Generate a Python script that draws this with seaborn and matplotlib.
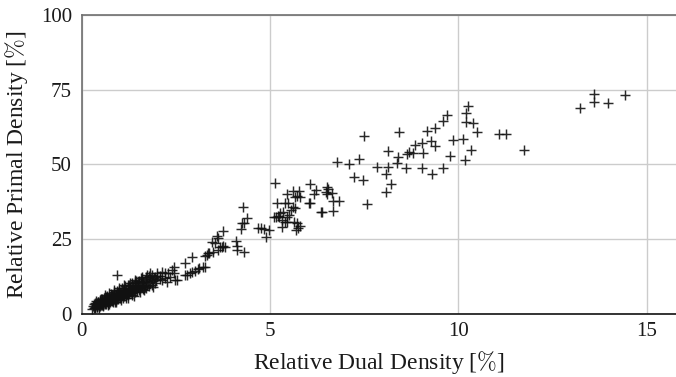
import matplotlib
matplotlib.use("Agg")
import matplotlib.pyplot as plt
import seaborn as sns
import pandas as pd

# Relative dual density [%] and relative primal density [%] per instance
dual_density = [
    # dense low-density group
    0.29, 0.31, 0.33, 0.34, 0.36, 0.37, 0.39, 0.40, 0.41, 0.43,
    0.44, 0.46, 0.47, 0.49, 0.50, 0.51, 0.52, 0.54, 0.55, 0.56,
    0.58, 0.59, 0.61, 0.62, 0.63, 0.64, 0.66, 0.67, 0.69, 0.70,
    0.71, 0.72, 0.74, 0.75, 0.76, 0.78, 0.79, 0.81, 0.82, 0.83,
    0.84, 0.86, 0.87, 0.88, 0.90, 0.91, 0.92, 0.94, 0.95, 0.96,
    0.98, 0.99, 1.01, 1.02, 1.03, 1.05, 1.06, 1.07, 1.09, 1.10,
    1.11, 1.13, 1.14, 1.16, 1.17, 1.19, 1.20, 1.21, 1.23, 1.24,
    1.26, 1.27, 1.29, 1.31, 1.32, 1.34, 1.36, 1.37, 1.39, 1.41,
    1.43, 1.45, 1.47, 1.49, 1.51, 1.53, 1.56, 1.58, 1.60, 1.62,
    1.64, 1.67, 1.69, 1.72, 1.74, 1.77, 1.79, 1.82, 1.84, 1.87,
    1.89, 1.92, 1.95, 1.98, 2.01, 0.35, 0.42, 0.48, 0.57, 0.65,
    0.73, 0.80, 0.89, 0.97, 1.04, 1.12, 1.22, 1.30, 1.38, 1.46,
    1.55, 1.63, 1.71, 0.45, 0.53, 0.60, 0.68, 0.77, 0.85, 0.93,
    1.00, 1.08, 1.15, 1.25, 1.33, 1.42, 1.52, 1.61, 1.70, 1.80,
    0.93, 1.24, 1.42, 1.60, 1.73,
    0.38, 0.52, 0.63, 0.74, 0.86, 0.99, 1.12, 1.28, 1.44, 1.58,
    0.47, 0.69, 0.91, 1.18, 1.35, 1.66, 1.90,
    # 2 - 4 %
    1.82, 1.86, 1.95, 1.99, 2.08, 2.13, 2.21, 2.26, 2.30, 2.35,
    2.39, 2.44, 2.48, 2.53, 2.13, 2.21, 2.44, 2.08,
    2.75, 2.79, 2.88, 2.92, 3.01, 3.10, 3.12, 3.23, 3.28, 2.75,
    2.92, 3.28, 3.32, 3.36, 3.39, 3.50, 3.63,
    3.45, 3.54, 3.59, 3.63, 3.67, 3.72, 3.76, 3.81, 3.74,
    4.10, 4.12, 4.13, 4.32, 4.22, 4.25, 4.32, 4.38, 4.28,
    # 4.5 - 7 %
    4.67, 4.76, 4.85, 4.96, 4.89,
    5.11, 5.16, 5.22, 5.27, 5.35, 5.25, 5.33, 5.39, 5.46, 5.51,
    5.44, 5.33, 5.64, 5.71, 5.80, 5.69, 5.75, 5.62, 5.57, 5.66,
    5.19, 5.40, 5.49, 6.03, 6.06, 5.45, 5.62, 5.78, 5.71, 5.80,
    5.66, 5.14, 6.07, 6.23, 6.18, 6.50, 6.53, 6.49, 6.52, 6.64,
    6.66, 6.84, 6.37, 6.66, 6.34, 6.79, 7.10, 7.36, 7.24, 7.46,
    7.56, 7.50,
    # 7.5 - 12 %
    7.85, 8.14, 8.08, 8.20, 8.08, 8.14, 8.43, 8.40, 8.38, 8.60,
    8.64, 8.70, 8.80, 8.85, 9.02, 9.07, 9.02, 9.17, 9.27, 9.37,
    9.39, 9.58, 9.69, 9.29, 9.60, 9.77, 9.86, 10.13, 10.18, 10.32,
    10.50, 10.39, 10.19, 10.19, 10.24, 11.08, 11.25, 11.75,
    # above 13 %
    13.22, 13.60, 13.60, 13.97, 14.42,
]

primal_density = [
    # dense low-density group
    1.5, 2.6, 1.9, 3.1, 2.3, 1.7, 2.9, 3.5, 2.1, 2.7,
    3.8, 2.4, 3.2, 4.2, 2.6, 3.0, 3.6, 2.8, 4.4, 3.3,
    2.9, 3.9, 4.8, 3.1, 3.6, 4.3, 3.3, 5.1, 3.9, 4.5,
    3.5, 5.4, 4.1, 4.8, 3.7, 5.0, 5.8, 4.2, 4.6, 5.5,
    3.9, 4.9, 6.1, 4.4, 5.3, 6.5, 4.6, 5.7, 5.0, 6.4,
    4.8, 5.9, 6.9, 5.2, 6.1, 5.5, 7.2, 6.3, 5.3, 6.7,
    7.6, 5.8, 6.6, 7.3, 6.0, 8.0, 6.4, 7.1, 8.3, 6.3,
    7.5, 6.8, 8.6, 7.2, 7.8, 6.9, 8.9, 7.6, 8.2, 7.3,
    9.3, 8.1, 7.6, 8.8, 9.7, 8.0, 8.6, 10.1, 9.0, 8.3,
    10.4, 9.3, 8.8, 10.8, 9.7, 11.1, 9.2, 10.4, 11.5, 9.6,
    10.9, 11.9, 10.2, 11.3, 12.4, 3.4, 2.1, 4.6, 2.6, 5.6,
    3.3, 6.2, 3.9, 7.0, 4.5, 7.7, 5.1, 8.1, 5.9, 9.6,
    7.3, 10.6, 8.4, 3.8, 4.9, 5.3, 6.0, 6.6, 7.1, 7.6,
    8.0, 8.6, 9.1, 9.5, 10.1, 10.5, 11.0, 11.6, 12.1, 12.6,
    12.9, 9.5, 11.2, 12.3, 12.9,
    4.3, 5.0, 6.2, 6.9, 7.9, 8.4, 9.6, 10.3, 11.0, 12.0,
    1.8, 2.9, 3.8, 5.2, 6.3, 7.8, 9.0,
    # 2 - 4 %
    13.5, 12.9, 12.3, 13.5, 11.5, 14.0, 11.8, 10.7, 13.5, 12.3,
    14.6, 15.7, 11.2, 11.2, 11.2, 13.7, 13.5, 12.6,
    12.9, 12.9, 13.5, 13.8, 14.3, 14.9, 15.1, 15.5, 15.7, 16.8,
    18.8, 19.3, 19.6, 20.2, 20.4, 20.7, 21.3,
    24.1, 23.5, 26.0, 25.2, 22.4, 22.2, 22.6, 22.2, 27.6,
    24.4, 22.6, 21.3, 20.5, 28.3, 30.4, 30.4, 31.9, 35.8,
    # 4.5 - 7 %
    28.5, 28.5, 28.3, 28.0, 25.5,
    32.2, 32.4, 32.8, 33.6, 34.1, 32.2, 31.3, 30.8, 32.4, 33.0,
    30.8, 28.9, 30.8, 30.2, 29.3, 28.0, 28.5, 35.8, 34.7, 35.2,
    37.1, 36.9, 37.1, 37.1, 36.9, 39.9, 41.1, 41.1, 39.4, 39.1,
    38.9, 43.8, 43.4, 41.4, 39.9, 42.5, 41.6, 40.8, 40.0, 40.3,
    37.8, 37.8, 34.1, 34.4, 34.0, 50.9, 50.1, 51.8, 45.8, 44.6,
    36.6, 59.5,
    # 7.5 - 12 %
    49.2, 49.2, 46.6, 43.3, 40.8, 54.4, 60.7, 52.3, 50.5, 48.8,
    53.4, 54.2, 53.7, 56.5, 57.0, 53.9, 48.8, 61.1, 57.9, 56.1,
    62.0, 64.5, 66.4, 46.7, 48.8, 52.7, 58.1, 58.5, 51.4, 54.8,
    60.7, 63.7, 64.0, 67.1, 69.6, 60.0, 60.0, 54.8,
    # above 13 %
    68.7, 73.5, 70.9, 70.4, 73.1,
]

x_ticks = [0, 5, 10, 15]
y_ticks = [0, 25, 50, 75, 100]

df = pd.DataFrame({"dual": dual_density, "primal": primal_density})

sns.set_style("white")
plt.rcParams["font.family"] = ["Liberation Serif", "DejaVu Serif"]
plt.rcParams["mathtext.fontset"] = "cm"

fig = plt.figure(figsize=(6.76, 3.77), dpi=100)
ax = fig.add_axes([0.1206, 0.1684, 0.8794, 0.7918])

sns.scatterplot(data=df, x="dual", y="primal", ax=ax, marker="+",
                s=48, color="#111111", linewidth=1.05, alpha=0.9,
                legend=False, zorder=3)

ax.set_xlim(0, 15.77)
ax.set_ylim(0, 100)
ax.set_xticks(x_ticks)
ax.set_yticks(y_ticks)
ax.grid(True, color="#cccccc", linewidth=1.0, zorder=0)
ax.set_axisbelow(True)

ax.tick_params(axis="both", direction="in", length=3, width=0.8,
               color="#999999", labelsize=15, labelcolor="#1a1a1a")
ax.tick_params(axis="y", pad=7)
ax.tick_params(axis="x", pad=6)

for side in ("left", "top"):
    ax.spines[side].set_color("#707070")
    ax.spines[side].set_linewidth(1.2)
ax.spines["bottom"].set_color("#111111")
ax.spines["bottom"].set_linewidth(1.2)
ax.spines["right"].set_visible(False)

ax.set_xlabel(r"Relative Dual Density [$\%$]", fontsize=17, color="#1a1a1a",
              labelpad=6)
ax.set_ylabel(r"Relative Primal Density [$\%$]", fontsize=17, color="#1a1a1a",
              labelpad=8)

fig.savefig("out.png", dpi=100)
